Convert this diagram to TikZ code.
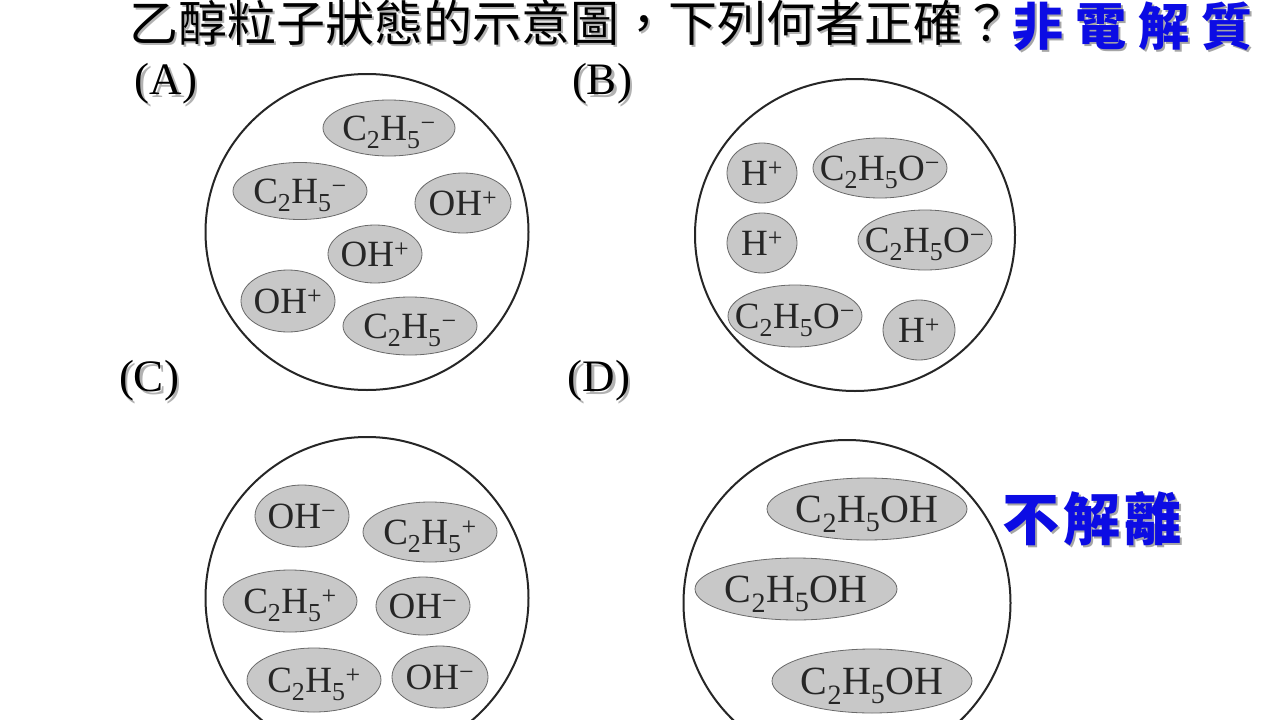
\documentclass[tikz,border=0pt]{standalone}
\usepackage{fontspec}
\setmainfont{Liberation Serif}
\newfontfamily\cjk{Noto Sans CJK TC}
\usetikzlibrary{shapes.geometric}
\definecolor{ionfill}{RGB}{200,200,200}
\definecolor{ionline}{RGB}{105,105,105}
\definecolor{ttlblue}{RGB}{12,12,228}
\newcommand\shd[2][black!30]{\makebox[0pt][l]{\hspace{2.5pt}\raisebox{-2.5pt}{\color{#1}#2}}#2}
\newcommand\ionlbl[1]{\makebox[0pt]{\smash{\raisebox{-0.33em}{#1}}}}
\newcommand\cHf{C\textsubscript{2}H\textsubscript{5}}
\tikzset{
  ion/.style 2 args={ellipse, draw=ionline, fill=ionfill, line width=0.8pt, inner sep=0pt,
    minimum width=#1pt, minimum height=#2pt, text=black!85, font=\fontsize{37}{37}\selectfont},
  ionD/.style 2 args={ion={#1}{#2}, font=\fontsize{40}{40}\selectfont},
  vessel/.style 2 args={ellipse, draw=black!85, line width=2pt, inner sep=0pt,
    minimum width=#1pt, minimum height=#2pt},
  optlbl/.style={inner sep=0pt, font=\fontsize{45}{45}\selectfont},
  bluetxt/.style={anchor=base west, inner sep=0pt, text=ttlblue, font=\cjk\bfseries}
}
\begin{document}
\begin{tikzpicture}[x=1pt,y=-1pt]
\useasboundingbox (0,0) rectangle (1280,720);
\clip (0,0) rectangle (1280,720);
\fill[white] (0,0) rectangle (1280,720);

% title
\node[anchor=base west, inner sep=0pt, font=\cjk\fontsize{49}{49}\selectfont] (title) at (129,41)
  {\shd{乙醇粒子狀態的示意圖，下列何者正確？}};
\node[bluetxt, font=\cjk\bfseries\fontsize{51}{51}\selectfont] (nonelec) at (1012,45)
  {\shd[black!35]{非\hspace{12pt}電\hspace{12pt}解\hspace{12pt}質}};

% option labels
\node[optlbl] (labA) at (166,85) {\shd{(A)}};
\node[optlbl] (labB) at (602,85) {\shd{(B)}};
\node[optlbl] (labC) at (149,382) {\shd{(C)}};
\node[optlbl] (labD) at (599,382) {\shd{(D)}};

% vessels
\node[vessel={323}{316}] (cA) at (367,232) {};
\node[vessel={320}{312}] (cB) at (855,235) {};
\node[vessel={323}{322}] (cC) at (367,598) {};
\node[vessel={327}{326}] (cD) at (847,603) {};

% (A)
\node[ion={132}{56}] (a1) at (389,128) {\ionlbl{\cHf\textsuperscript{−}}};
\node[ion={134}{57}] (a2) at (300,191) {\ionlbl{\cHf\textsuperscript{−}}};
\node[ion={96}{60}]  (a3) at (463,203) {\ionlbl{OH\textsuperscript{+}}};
\node[ion={94}{58}]  (a4) at (375,254) {\ionlbl{OH\textsuperscript{+}}};
\node[ion={94}{62}]  (a5) at (288,301) {\ionlbl{OH\textsuperscript{+}}};
\node[ion={134}{58}] (a6) at (410,326) {\ionlbl{\cHf\textsuperscript{−}}};

% (B)
\node[ion={70}{60}]  (b1) at (762,173) {\ionlbl{H\textsuperscript{+}}};
\node[ion={134}{60}] (b2) at (880,168) {\ionlbl{\cHf O\textsuperscript{−}}};
\node[ion={70}{60}]  (b3) at (762,243) {\ionlbl{H\textsuperscript{+}}};
\node[ion={134}{60}] (b4) at (925,240) {\ionlbl{\cHf O\textsuperscript{−}}};
\node[ion={134}{62}] (b5) at (795,316) {\ionlbl{\cHf O\textsuperscript{−}}};
\node[ion={72}{60}]  (b6) at (919,330) {\ionlbl{H\textsuperscript{+}}};

% (C)
\node[ion={94}{62}]  (c1) at (302,516) {\ionlbl{OH\textsuperscript{−}}};
\node[ion={134}{60}] (c2) at (430,532) {\ionlbl{\cHf\textsuperscript{+}}};
\node[ion={134}{62}] (c3) at (290,601) {\ionlbl{\cHf\textsuperscript{+}}};
\node[ion={94}{58}]  (c4) at (423,606) {\ionlbl{OH\textsuperscript{−}}};
\node[ion={134}{64}] (c5) at (314,680) {\ionlbl{\cHf\textsuperscript{+}}};
\node[ion={96}{62}]  (c6) at (440,677) {\ionlbl{OH\textsuperscript{−}}};

% (D)
\node[ionD={200}{62}] (d1) at (867,509) {\ionlbl{\cHf OH}};
\node[ionD={202}{62}] (d2) at (796,589) {\ionlbl{\cHf OH}};
\node[ionD={200}{64}] (d3) at (872,681) {\ionlbl{\cHf OH}};

\node[bluetxt, font=\cjk\bfseries\fontsize{57}{57}\selectfont] (nodiss) at (1002,540)
  {\shd[black!35]{不\hspace{4pt}解\hspace{4pt}離}};
\end{tikzpicture}
\end{document}
